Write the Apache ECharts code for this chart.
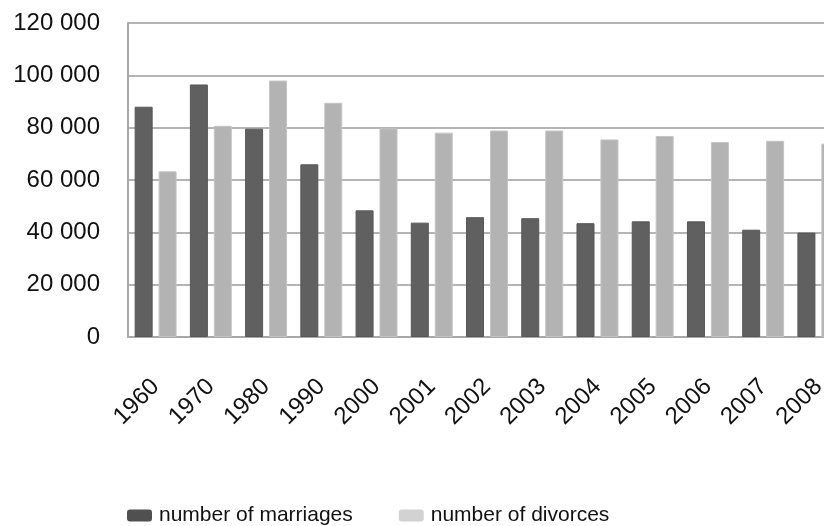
<!DOCTYPE html>
<html>
<head>
<meta charset="utf-8">
<style>
  html, body { margin: 0; padding: 0; background: #fff; overflow: hidden; }
  /* the plot runs past the right edge of the window, so the last bar is clipped */
  #chart { width: 846px; height: 526px; }
</style>
<script src="https://cdn.jsdelivr.net/npm/echarts@6/dist/echarts.min.js"></script>
</head>
<body>
<div id="chart"></div>
<script>
// Marriages and divorces per year
const years = ['1960', '1970', '1980', '1990', '2000', '2001', '2002', '2003', '2004', '2005', '2006', '2007', '2008'];
const marriages = [88000, 96500, 79600, 66000, 48400, 43700, 45800, 45400, 43500, 44200, 44200, 41000, 39900];
const divorces = [63300, 80700, 98000, 89500, 79700, 78100, 78900, 78900, 75500, 76800, 74500, 75000, 73900];
const seriesNames = ['number of marriages', 'number of divorces'];

const FONT = '"Liberation Sans", Arial, sans-serif';

function groupThousands(v) {
  return String(v).replace(/\B(?=(\d{3})+(?!\d))/g, ' ');
}

const chart = echarts.init(document.getElementById('chart'), null, { renderer: 'canvas' });

chart.setOption({
  animation: false,
  backgroundColor: '#ffffff',
  grid: { left: 128, right: 0, top: 23, bottom: 189, containLabel: false },
  legend: {
    top: 505,
    left: 127,
    padding: 0,
    itemWidth: 25,
    itemHeight: 12,
    itemGap: 46,
    icon: 'roundRect',
    textStyle: { fontFamily: FONT, fontSize: 21, color: '#111', padding: [0, 0, 0, 2] },
    data: [
      { name: seriesNames[0], itemStyle: { color: '#505050', borderWidth: 0 } },
      { name: seriesNames[1], itemStyle: { color: '#d2d2d2', borderWidth: 0 } }
    ]
  },
  xAxis: {
    type: 'category',
    data: years,
    axisLine: { show: true, lineStyle: { color: '#a8a8a8', width: 2 } },
    axisTick: { show: false },
    axisLabel: {
      interval: 0,
      rotate: 45,
      margin: 46,
      fontFamily: FONT,
      fontSize: 24,
      color: '#111'
    },
    splitLine: { show: false }
  },
  yAxis: {
    type: 'value',
    min: 0,
    max: 120000,
    interval: 20000,
    axisLine: { show: true, lineStyle: { color: '#a8a8a8', width: 2 } },
    axisTick: { show: false },
    axisLabel: {
      margin: 28,
      fontFamily: FONT,
      fontSize: 24,
      color: '#111',
      formatter: groupThousands
    },
    splitLine: { show: true, lineStyle: { color: '#b4b4b4', width: 2 } }
  },
  series: [
    {
      name: seriesNames[0],
      type: 'bar',
      data: marriages,
      barWidth: 18,
      barGap: '33%',
      itemStyle: { color: '#606060', borderColor: '#575757', borderWidth: 1 }
    },
    {
      name: seriesNames[1],
      type: 'bar',
      data: divorces,
      barWidth: 18,
      barGap: '33%',
      itemStyle: { color: '#b3b3b3', borderColor: '#c4c4c4', borderWidth: 1 }
    }
  ]
});
</script>
</body>
</html>
